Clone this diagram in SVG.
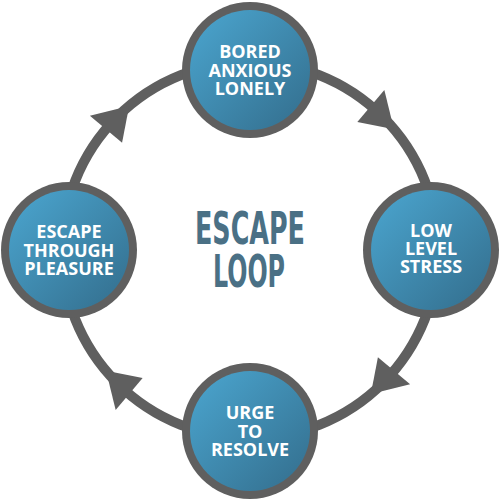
<svg xmlns="http://www.w3.org/2000/svg" width="500" height="500" viewBox="0 0 500 500">
<defs>
<linearGradient id="blue" x1="0" y1="0" x2="1" y2="1">
<stop offset="0" stop-color="#4ba6d0"/>
<stop offset="1" stop-color="#336d8c"/>
</linearGradient>
<polygon id="ah" points="250,41 250,83 282.6,64.9"/>
<style>
.ring{fill:none;stroke:#5f5f5f;stroke-width:10}
.arrow{fill:#5f5f5f}
.border{fill:#5f5f5f}
.inner{fill:url(#blue)}
.lbl{font-family:"Open Sans","Noto Sans",sans-serif;font-weight:700;font-size:18px;fill:#ffffff;text-anchor:middle}
.title{font-family:"DejaVu Sans Condensed","DejaVu Sans",sans-serif;font-weight:700;font-size:45px;fill:#4a7085;text-anchor:middle}
</style>
</defs>
<rect width="500" height="500" fill="#ffffff"/>
<g id="connectors">
<circle class="ring" cx="250" cy="250" r="188"/>
<use href="#ah" class="arrow" transform="rotate(40 250 250)"/>
<use href="#ah" class="arrow" transform="rotate(130 250 250)"/>
<use href="#ah" class="arrow" transform="rotate(220 250 250)"/>
<use href="#ah" class="arrow" transform="rotate(310 250 250)"/>
</g>
<g id="node-top">
<circle class="border" cx="250" cy="70" r="68"/>
<circle class="inner" cx="250" cy="70" r="60"/>
<text class="lbl" x="250" y="58.3">BORED</text>
<text class="lbl" x="250" y="76.7">ANXIOUS</text>
<text class="lbl" x="250" y="95">LONELY</text>
</g>
<g id="node-right">
<circle class="border" cx="431" cy="250" r="68"/>
<circle class="inner" cx="431" cy="250" r="60"/>
<text class="lbl" x="431" y="236.7">LOW</text>
<text class="lbl" x="431" y="255">LEVEL</text>
<text class="lbl" x="431" y="273.3">STRESS</text>
</g>
<g id="node-bottom">
<circle class="border" cx="250" cy="431" r="68"/>
<circle class="inner" cx="250" cy="431" r="60"/>
<text class="lbl" x="250" y="419.3">URGE</text>
<text class="lbl" x="250" y="437.6">TO</text>
<text class="lbl" x="250" y="456">RESOLVE</text>
</g>
<g id="node-left">
<circle class="border" cx="69" cy="250" r="68"/>
<circle class="inner" cx="69" cy="250" r="60"/>
<text class="lbl" x="69" y="238.3">ESCAPE</text>
<text class="lbl" x="69" y="256.6">THROUGH</text>
<text class="lbl" x="69" y="274.9">PLEASURE</text>
</g>
<g id="title">
<text class="title" x="250" y="244" textLength="110" lengthAdjust="spacingAndGlyphs">ESCAPE</text>
<text class="title" x="249" y="286.7" textLength="72" lengthAdjust="spacingAndGlyphs">LOOP</text>
</g>
</svg>
